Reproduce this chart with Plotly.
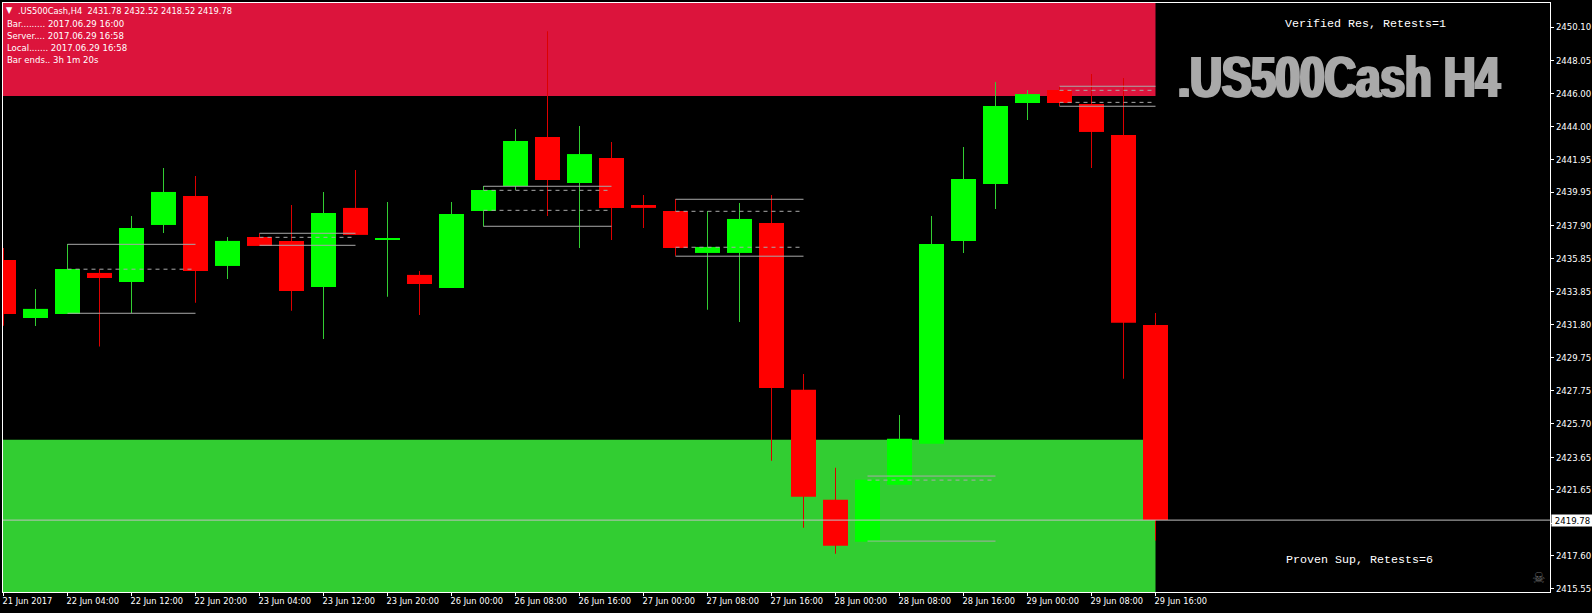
import plotly.graph_objects as go

# ---- data ----
tick_bars = list(range(0, 37, 2))
tick_labels = ["21 Jun 2017", "22 Jun 04:00", "22 Jun 12:00", "22 Jun 20:00", "23 Jun 04:00",
               "23 Jun 12:00", "23 Jun 20:00", "26 Jun 00:00", "26 Jun 08:00", "26 Jun 16:00",
               "27 Jun 00:00", "27 Jun 08:00", "27 Jun 16:00", "28 Jun 00:00", "28 Jun 08:00",
               "28 Jun 16:00", "29 Jun 00:00", "29 Jun 08:00", "29 Jun 16:00"]
price_ticks = [2450.10, 2448.05, 2446.00, 2444.00, 2441.95, 2439.95, 2437.90, 2435.85, 2433.85,
               2431.80, 2429.75, 2427.75, 2425.70, 2423.65, 2421.65, 2419.60, 2417.60, 2415.55]

opens = [2435.78, 2432.21, 2432.46, 2434.98, 2434.43, 2437.93, 2439.71, 2435.41, 2437.19, 2436.95,
         2434.12, 2438.98, 2437.02, 2434.86, 2434.06, 2438.79, 2440.33, 2443.34, 2440.51, 2442.05,
         2439.16, 2438.79, 2436.21, 2436.21, 2438.05, 2427.79, 2421.03, 2418.45, 2421.95, 2424.47,
         2436.95, 2440.45, 2445.43, 2446.23, 2445.37, 2443.46, 2431.78]
highs = [2436.52, 2434.00, 2436.76, 2435.21, 2438.48, 2441.43, 2440.94, 2437.19, 2437.42, 2439.16,
         2439.96, 2441.31, 2439.34, 2435.10, 2439.34, 2440.33, 2443.83, 2449.85, 2444.02, 2443.03,
         2439.77, 2439.53, 2438.79, 2439.28, 2439.77, 2428.77, 2423.00, 2422.26, 2426.25, 2438.48,
         2442.72, 2446.72, 2446.23, 2446.47, 2447.21, 2446.97, 2432.52]
lows = [2431.74, 2431.72, 2432.46, 2430.45, 2432.52, 2437.44, 2433.14, 2434.61, 2436.64, 2432.65,
        2430.92, 2437.32, 2433.51, 2432.40, 2434.06, 2437.83, 2440.08, 2438.48, 2436.52, 2437.01,
        2437.75, 2436.03, 2432.71, 2431.97, 2423.43, 2419.31, 2417.71, 2418.32, 2416.23, 2423.98,
        2436.21, 2438.91, 2444.38, 2445.24, 2441.43, 2428.48, 2418.52]
closes = [2432.46, 2432.77, 2435.23, 2434.67, 2437.75, 2439.96, 2435.10, 2436.95, 2436.64, 2433.87,
          2438.67, 2437.32, 2437.08, 2434.30, 2438.61, 2440.08, 2443.09, 2440.70, 2442.29, 2438.98,
          2438.98, 2436.52, 2436.58, 2438.30, 2427.91, 2421.21, 2418.20, 2422.26, 2424.78, 2436.76,
          2440.76, 2445.24, 2445.98, 2445.43, 2443.65, 2431.91, 2419.78]

last_price = 2419.78
res_zone_low = 2445.86
sup_zone_high = 2424.72
zone_end_bar = 36

level_start = [2, 8, 15, 21, 27, 33]
level_end = [6, 11, 19, 25, 31, 36]
level_solid = [[2436.74, 2432.50], [2437.42, 2436.68], [2440.31, 2437.85],
               [2439.51, 2436.01], [2422.49, 2418.49], [2446.46, 2445.23]]
level_dashed = [[2435.21], [2437.17], [2440.06, 2438.83],
                [2438.77, 2436.56], [2422.24], [2446.21, 2445.47]]

info_lines = ["Bar......... 2017.06.29 16:00", "Server.... 2017.06.29 16:58",
              "Local....... 2017.06.29 16:58", "Bar ends.. 3h 1m 20s"]
header = ".US500Cash,H4\u00a0\u00a02431.78 2432.52 2418.52 2419.78"
big_title = ".US500Cash H4"

# ---- style ----
W, H = 1592, 613
L, R, T, B = 3, 42, 3, 21
BAR_PX = 32
x0 = -0.5 / BAR_PX
x_range = [x0, x0 + (W - L - R) / BAR_PX]
y_range = [2415.36, 2451.58]
UI = "DejaVu Sans Condensed, DejaVu Sans, sans-serif"
LEVEL = "#A9A9A9"

n = len(opens)
xs = list(range(n))
is_up = [c >= o for o, c in zip(opens, closes)]

fig = go.Figure()


def wicks(flag, color):
    idx = [i for i in xs if is_up[i] == flag]
    fig.add_bar(x=idx, y=[highs[i] - lows[i] for i in idx], base=[lows[i] for i in idx],
                width=1 / BAR_PX, marker=dict(color=color, line=dict(width=0)), hoverinfo="skip")


def bodies(flag, color):
    idx = [i for i in xs if is_up[i] == flag]
    fig.add_bar(x=idx, y=[abs(closes[i] - opens[i]) for i in idx],
                base=[min(opens[i], closes[i]) for i in idx],
                width=25 / BAR_PX, marker=dict(color=color, line=dict(width=0)), hoverinfo="skip")


wicks(True, "#32CD32")
wicks(False, "#DD0000")
bodies(True, "#00FF00")
bodies(False, "#FF0000")

# supply / demand zones
fig.add_shape(type="rect", xref="x", yref="y", layer="below", x0=x_range[0], x1=zone_end_bar,
              y0=res_zone_low, y1=y_range[1], fillcolor="#DC143C", line_width=0)
fig.add_shape(type="rect", xref="x", yref="y", layer="below", x0=x_range[0], x1=zone_end_bar,
              y0=y_range[0], y1=sup_zone_high, fillcolor="#32CD32", line_width=0)

# fractal level boxes
for s, e, solid, dashed in zip(level_start, level_end, level_solid, level_dashed):
    for p in solid:
        fig.add_shape(type="line", xref="x", yref="y", x0=s, x1=e, y0=p, y1=p,
                      line=dict(color=LEVEL, width=1))
    for p in dashed:
        fig.add_shape(type="line", xref="x", yref="y", x0=s, x1=e, y0=p, y1=p,
                      line=dict(color=LEVEL, width=1, dash="4px,4px"))

# last price line
fig.add_shape(type="line", xref="paper", yref="y", x0=0, x1=1, y0=last_price, y1=last_price,
              line=dict(color="#C0C0C0", width=1))


def note(text, px, py, size, color="white", family=UI, anchor="left", **kw):
    fig.add_annotation(text=text, xref="paper", yref="paper",
                       x=(px - L) / (W - L - R), y=1 - (py - T) / (H - T - B),
                       xanchor=anchor, yanchor="middle", showarrow=False, borderpad=0,
                       font=dict(size=size, color=color, family=family, **kw))


note("\u25BC", 5, 10.5, 9)
note(header, 17, 10.5, 9.2)
for k, line in enumerate(info_lines):
    note(line, 6, 23.5 + 12 * k, 9.5)
note("Verified Res, Retests=1", 1284, 24.5, 11.67, family="Liberation Mono, monospace")
note("Proven Sup, Retests=6", 1285, 559.5, 11.67, family="Liberation Mono, monospace")
note(big_title, 1177, 76.5, 57, color="#A9A9A9",
     family="Liberation Sans, sans-serif", weight="bold",
     shadow="2px 0 #A9A9A9, -2px 0 #A9A9A9")
note("\u2620", 1538, 578, 15, color="#666666", family="DejaVu Sans", anchor="center")

# last price tag
fig.add_annotation(text="2419.78", xref="paper", yref="y", x=(1551 - L) / (W - L - R), y=last_price,
                   xanchor="left", yanchor="middle", showarrow=False, bgcolor="white",
                   borderpad=0, width=41, height=11, align="center",
                   font=dict(size=9.5, color="black", family=UI))

fig.update_layout(
    width=W, height=H, margin=dict(l=L, r=R, t=T, b=B, pad=0, autoexpand=False),
    paper_bgcolor="black", plot_bgcolor="black", showlegend=False,
    barmode="overlay", hovermode=False,
    xaxis=dict(range=x_range, tickmode="array", tickvals=tick_bars, ticktext=tick_labels,
               showgrid=False, zeroline=False, showline=True, mirror=True, linecolor="white",
               linewidth=1, ticks="outside", ticklen=3, tickcolor="white", tickwidth=1,
               tickangle=0, ticklabelposition="outside right", ticklabelshift=-2,
               tickfont=dict(size=9.2, color="white", family=UI), fixedrange=True),
    yaxis=dict(range=y_range, side="right", tickmode="array", tickvals=price_ticks,
               ticktext=[f"{p:.2f}" for p in price_ticks],
               showgrid=False, zeroline=False, showline=True, mirror=True, linecolor="white",
               linewidth=1, ticks="outside", ticklen=3, tickcolor="white", tickwidth=1,
               tickfont=dict(size=9.5, color="white", family=UI), fixedrange=True),
)

# The reference's heavy condensed title: narrow the real text element horizontally.
post = """
document.body.style.margin='0';document.body.style.overflow='hidden';
document.querySelectorAll('.annotation-text').forEach(function(t){
  if(t.textContent==='%s'){
    var b=t.getBBox();
    t.setAttribute('transform','translate('+b.x+',0) scale(0.77,1) translate('+(-b.x)+',0)');
  }
});
""" % big_title
fig.write_html("out.html", post_script=post, config={"displayModeBar": False})
